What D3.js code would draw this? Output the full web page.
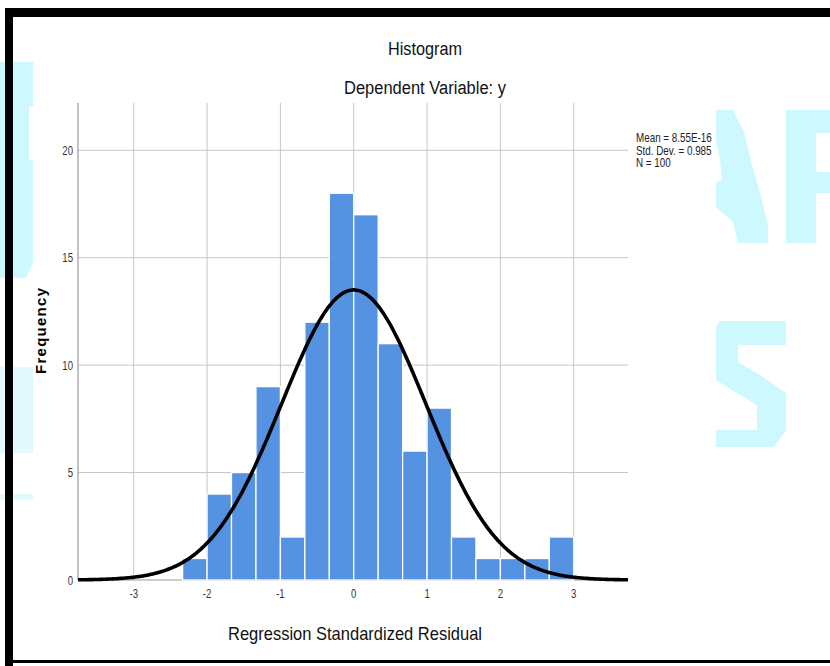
<!DOCTYPE html>
<html>
<head>
<meta charset="utf-8">
<script src="https://cdn.jsdelivr.net/npm/d3@7"></script>
<style>
  body { margin: 0; background: #fff; }
  text { font-family: "Liberation Sans Narrow", "Arial Narrow", "Liberation Sans", Arial, sans-serif; }
</style>
</head>
<body>
<svg id="chart" width="830" height="666"></svg>
<script>
// histogram bins (width 1/3) and their counts
var binStarts = [-7/3, -2, -5/3, -4/3, -1, -2/3, -1/3, 0, 1/3, 2/3, 1, 4/3, 5/3, 2, 7/3, 8/3]
var counts    = [1, 4, 5, 9, 2, 12, 18, 17, 11, 6, 8, 2, 1, 1, 1, 2]
var binWidth = 1/3

var xTicks = [-3, -2, -1, 0, 1, 2, 3]
var yTicks = [0, 5, 10, 15, 20]

var statLabels = ["Mean = 8.55E-16", "Std. Dev. = 0.985", "N = 100"]
var mean = 8.55e-16, sd = 0.985, n = 100

var svg = d3.select("#chart")

// watermark bits behind everything
var wm = svg.append("g")
wm.append("path").attr("fill", "#ccf8fe")
  .attr("d", "M0,62H33V106H29V160H33V262L26,278H0Z")
wm.append("path").attr("fill", "#e2f9fd")
  .attr("d", "M0,367H33V453H0Z M0,494H33V500H0Z")
wm.append("path").attr("fill", "#ccf8fe")
  .attr("d", "M716,110L733,110L744,132L752,165L762,200L768,225L768,243L738,243L733,222L716,207L716,183L722,180L720,160L716,140Z")
wm.append("path").attr("fill", "#ccf8fe")
  .attr("d", "M786,110H830V133H816V172H830V193H816V243H786Z")
wm.append("path").attr("fill", "#ccf8fe")
  .attr("d", "M720,321H786V345H738V362L760,375L786,393V430L774,447H716V430H757V405L735,392L716,380V327Z")

var x = d3.scaleLinear().domain([-3.76, 3.74]).range([78, 628])
var y = d3.scaleLinear().domain([0, 22.2]).range([580, 103])

// grid
svg.append("g").selectAll("line.h")
  .data(yTicks.filter(function(d) { return d > 0 }))
  .enter().append("line")
    .attr("x1", x.range()[0]).attr("x2", x.range()[1])
    .attr("y1", function(d) { return y(d) }).attr("y2", function(d) { return y(d) })
    .style("stroke", "#c6c6c6").style("stroke-width", 1)

svg.append("g").selectAll("line.v")
  .data(xTicks)
  .enter().append("line")
    .attr("x1", function(d) { return x(d) }).attr("x2", function(d) { return x(d) })
    .attr("y1", y.range()[1]).attr("y2", y.range()[0])
    .style("stroke", "#c6c6c6").style("stroke-width", 1)

// axis lines
svg.append("line")
  .attr("x1", x.range()[0]).attr("x2", x.range()[0])
  .attr("y1", y.range()[1]).attr("y2", y.range()[0])
  .style("stroke", "#9a9a9a").style("stroke-width", 1.2)
svg.append("line")
  .attr("x1", x.range()[0]).attr("x2", x.range()[1])
  .attr("y1", y(0)).attr("y2", y(0))
  .style("stroke", "#9a9a9a").style("stroke-width", 1.2)

// bars
svg.append("g").selectAll("rect")
  .data(counts)
  .enter().append("rect")
    .attr("x", function(d, i) { return x(binStarts[i]) })
    .attr("width", function(d, i) { return x(binStarts[i] + binWidth) - x(binStarts[i]) })
    .attr("y", function(d) { return y(d) })
    .attr("height", function(d) { return y(0) - y(d) })
    .style("fill", "#5592e2")
    .style("stroke", "#ffffff")
    .style("stroke-width", 1.3)

// fitted normal curve from the stats shown in the legend
var xs = d3.range(x.domain()[0], x.domain()[1] + 0.001, 0.02)
var normal = function(v) {
  return n * binWidth * Math.exp(-0.5 * Math.pow((v - mean) / sd, 2)) / (sd * Math.sqrt(2 * Math.PI))
}
svg.append("path")
  .datum(xs)
  .attr("d", d3.line().x(function(d) { return x(d) }).y(function(d) { return y(normal(d)) }))
  .style("fill", "none")
  .style("stroke", "#000")
  .style("stroke-width", 3.6)

// tick labels (squeezed like the narrow font of the original)
svg.append("g").selectAll("text")
  .data(yTicks)
  .enter().append("text")
    .attr("transform", function(d) { return "translate(73," + (y(d) + 4.5) + ") scale(0.8,1)" })
    .attr("text-anchor", "end")
    .attr("font-size", 12)
    .attr("fill", "#333")
    .text(function(d) { return d })

svg.append("g").selectAll("text")
  .data(xTicks)
  .enter().append("text")
    .attr("transform", function(d) { return "translate(" + x(d) + ",598) scale(0.8,1)" })
    .attr("text-anchor", "middle")
    .attr("font-size", 12)
    .attr("fill", "#333")
    .text(function(d) { return d })

// titles
svg.append("text").attr("x", 425).attr("y", 55).attr("text-anchor", "middle")
  .attr("font-size", 18).attr("fill", "#111").attr("textLength", 74).attr("lengthAdjust", "spacingAndGlyphs")
  .text("Histogram")
svg.append("text").attr("x", 425).attr("y", 94).attr("text-anchor", "middle")
  .attr("font-size", 18).attr("fill", "#111").attr("textLength", 162).attr("lengthAdjust", "spacingAndGlyphs")
  .text("Dependent Variable: y")
svg.append("text").attr("x", 355).attr("y", 640).attr("text-anchor", "middle")
  .attr("font-size", 19).attr("fill", "#111").attr("textLength", 254).attr("lengthAdjust", "spacingAndGlyphs")
  .text("Regression Standardized Residual")
svg.append("text")
  .attr("transform", "translate(46,331) rotate(-90)")
  .attr("text-anchor", "middle")
  .attr("font-size", 15).attr("font-weight", "bold")
  .style("font-family", "'Liberation Sans', Arial, sans-serif")
  .attr("textLength", 86).attr("lengthAdjust", "spacing")
  .text("Frequency")

// stats box
svg.append("g").selectAll("text")
  .data(statLabels)
  .enter().append("text")
    .attr("transform", function(d, i) { return "translate(636," + (142 + i * 12.5) + ") scale(0.82,1)" })
    .attr("font-size", 12)
    .attr("fill", "#222")
    .text(function(d) { return d })

// black frame of the screenshot
svg.append("rect").attr("x", 5).attr("y", 8).attr("width", 825).attr("height", 9).style("fill", "#000")
svg.append("rect").attr("x", 5).attr("y", 8).attr("width", 8).attr("height", 658).style("fill", "#000")
svg.append("rect").attr("x", 5).attr("y", 660).attr("width", 825).attr("height", 3).style("fill", "#000")
</script>
</body>
</html>
